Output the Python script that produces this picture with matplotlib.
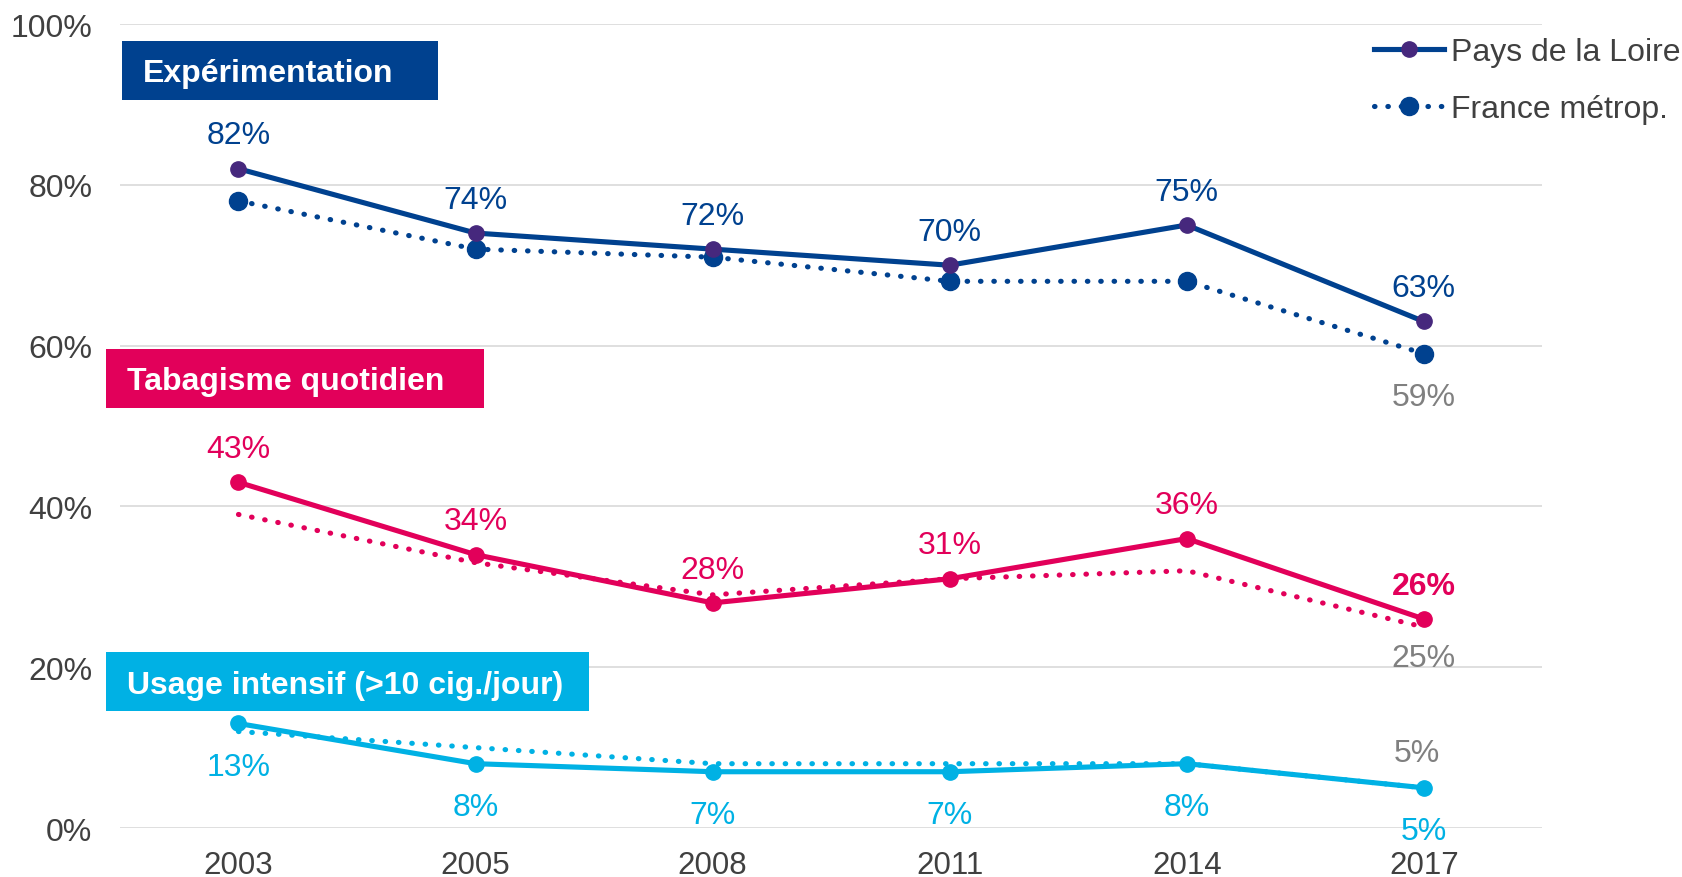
import matplotlib.pyplot as plt
from matplotlib.patches import Rectangle
from matplotlib.lines import Line2D

plt.rcParams['font.family'] = ['Liberation Sans', 'DejaVu Sans']

years = ['2003', '2005', '2008', '2011', '2014', '2017']

# Pays de la Loire / France metropolitaine, en %
exp_pdl = [82, 74, 72, 70, 75, 63]
exp_fr = [78, 72, 71, 68, 68, 59]
tab_pdl = [43, 34, 28, 31, 36, 26]
tab_fr = [39, 33, 29, 31, 32, 25]
int_pdl = [13, 8, 7, 7, 8, 5]
int_fr = [12, 10, 8, 8, 8, 5]

BLUE = '#00418F'
PURPLE = '#46287D'
PINK = '#E2005A'
CYAN = '#00B1E4'
GREY = '#808080'
TXT = '#404040'

fig = plt.figure(figsize=(16.82, 8.78), dpi=100)
ax = fig.add_axes([0.0713, 0.0558, 0.8457, 0.9157])
x = range(len(years))

dots = (0, (0.1, 2.5))
lw = 3.7
ms = 11

# dotted lines (France)
ax.plot(x, exp_fr, color=BLUE, lw=lw, ls=dots, dash_capstyle='round',
        marker='o', ms=13, zorder=3)
ax.plot(x, tab_fr, color=PINK, lw=lw, ls=dots, dash_capstyle='round', zorder=3)
ax.plot(x, int_fr, color=CYAN, lw=lw, ls=dots, dash_capstyle='round', zorder=3)

# solid lines (Pays de la Loire)
ax.plot(x, exp_pdl, color=BLUE, lw=lw, marker='o', ms=ms,
        mfc=PURPLE, mec=PURPLE, zorder=4)
ax.plot(x, tab_pdl, color=PINK, lw=lw, marker='o', ms=ms, zorder=4)
ax.plot(x, int_pdl, color=CYAN, lw=lw, marker='o', ms=ms, zorder=4)

fs = 23
for i, v in enumerate(exp_pdl):
    ax.annotate(f'{v}%', (i, v), xytext=(0, 24), textcoords='offset points',
                ha='center', va='center', color=BLUE, fontsize=fs)
for i, v in enumerate(tab_pdl):
    ax.annotate(f'{v}%', (i, v), xytext=(0, 24), textcoords='offset points',
                ha='center', va='center', color=PINK, fontsize=fs,
                fontweight='bold' if i == len(tab_pdl) - 1 else 'normal')
for i, v in enumerate(int_pdl):
    ax.annotate(f'{v}%', (i, v), xytext=(0, -31), textcoords='offset points',
                ha='center', va='center', color=CYAN, fontsize=fs)

last = len(years) - 1
ax.annotate(f'{exp_fr[-1]}%', (last, exp_fr[-1]), xytext=(0, -31),
            textcoords='offset points', ha='center', va='center', color=GREY, fontsize=fs)
ax.annotate(f'{tab_fr[-1]}%', (last, tab_fr[-1]), xytext=(0, -22),
            textcoords='offset points', ha='center', va='center', color=GREY, fontsize=fs)
ax.annotate(f'{int_fr[-1]}%', (last, int_fr[-1]), xytext=(-5, 25),
            textcoords='offset points', ha='center', va='center', color=GREY, fontsize=fs)

ax.set_xlim(-0.5, 5.5)
ax.set_ylim(0, 100)
ax.set_xticks(list(x))
ax.set_xticklabels(years)
ax.set_yticks([0, 20, 40, 60, 80, 100])
ax.set_yticklabels([f'{t}%' for t in [0, 20, 40, 60, 80, 100]])
ax.tick_params(axis='both', length=0, labelsize=22.5, labelcolor=TXT)
ax.tick_params(axis='y', pad=20, labelsize=23)
ax.tick_params(axis='x', pad=16)
ax.grid(axis='y', color='#D9D9D9', lw=1.2)
ax.set_axisbelow(True)
for s in ax.spines.values():
    s.set_visible(False)

# boxed titles
boxes = [
    ('Expérimentation', BLUE, 0.0725, 0.8851, 0.1879, 0.0672, 0.0850),
    ('Tabagisme quotidien', PINK, 0.0630, 0.5343, 0.2248, 0.0672, 0.0755),
    ('Usage intensif (>10 cig./jour)', CYAN, 0.0630, 0.1890, 0.2872, 0.0672, 0.0755),
]
for label, col, bx, by, bw, bh, tx in boxes:
    fig.patches.append(Rectangle((bx, by), bw, bh, transform=fig.transFigure,
                                 facecolor=col, edgecolor='none', zorder=5))
    fig.text(tx, by + bh / 2 - 0.0035, label, color='white', fontsize=23,
             fontweight='bold', ha='left', va='center', zorder=6)

handles = [
    Line2D([], [], color=BLUE, lw=lw, marker='o', ms=ms, mfc=PURPLE, mec=PURPLE),
    Line2D([], [], color=BLUE, lw=lw, ls=dots, dash_capstyle='round', marker='o', ms=13),
]
leg = ax.legend(handles, ['Pays de la Loire', 'France métrop.'], loc='upper left',
                bbox_to_anchor=(0.817, 0.957), bbox_transform=fig.transFigure,
                frameon=False, fontsize=23, handlelength=2.2, handletextpad=0.2,
                labelspacing=0.85, borderpad=0, borderaxespad=0)
for t in leg.get_texts():
    t.set_color(TXT)

fig.savefig('out.png', dpi=100)
